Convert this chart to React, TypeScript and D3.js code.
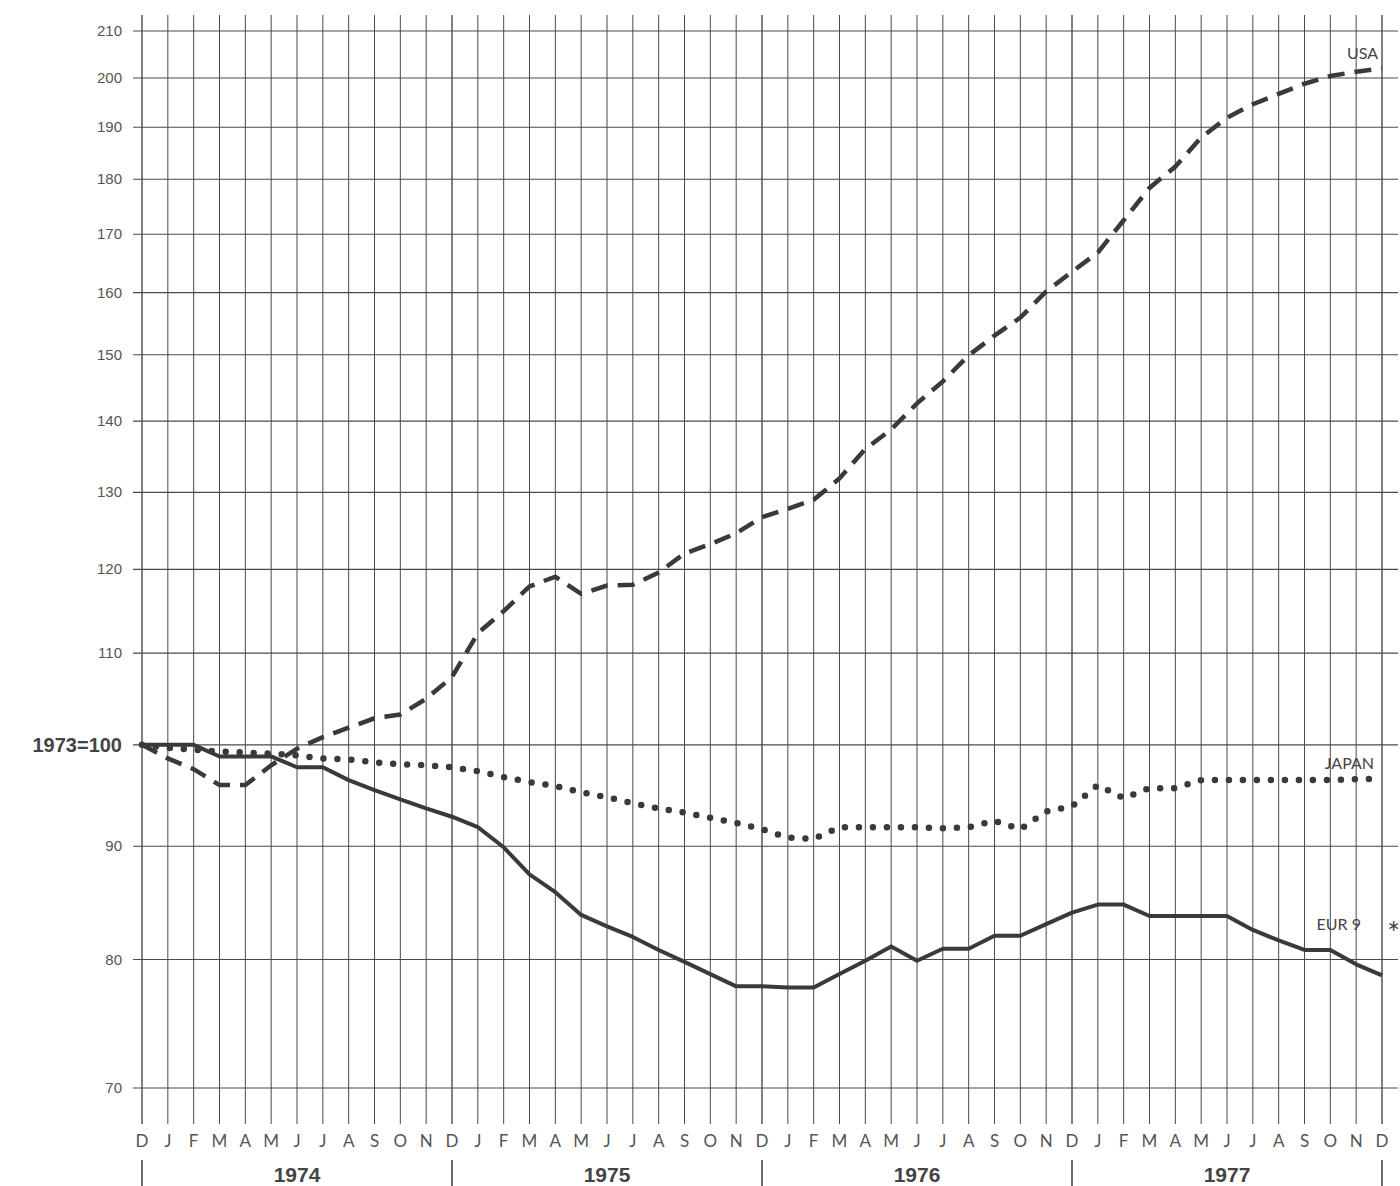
import * as d3 from 'd3';
import React, { useRef, useEffect } from 'react';

// month letters, Dec 1973 .. Dec 1977
const months = ['D','J','F','M','A','M','J','J','A','S','O','N',
  'D','J','F','M','A','M','J','J','A','S','O','N',
  'D','J','F','M','A','M','J','J','A','S','O','N',
  'D','J','F','M','A','M','J','J','A','S','O','N','D'];
const years = ['1974', '1975', '1976', '1977'];
const yTicks = [70, 80, 90, 100, 110, 120, 130, 140, 150, 160, 170, 180, 190, 200, 210];

const usa = [100, 98.6, 97.5, 95.9, 95.9, 97.9, 99.6, 100.8, 101.8, 102.8, 103.2, 104.9, 107.3,
  112.3, 114.9, 117.9, 119.1, 117.0, 118.0, 118.1, 119.6, 122.0, 123.2, 124.6, 126.7,
  127.8, 129.0, 131.9, 136.0, 138.8, 142.6, 145.9, 149.9, 153.0, 155.9, 160.2, 163.5,
  166.8, 172.5, 178.4, 182.4, 188.0, 191.9, 194.6, 196.7, 198.8, 200.4, 201.3, 202.0];
const japan = [100, 99.7, 99.5, 99.3, 99.2, 99.1, 98.9, 98.6, 98.5, 98.2, 98.0, 97.9, 97.7,
  97.3, 96.7, 96.2, 95.8, 95.2, 94.7, 94.1, 93.6, 93.2, 92.7, 92.2, 91.6,
  90.8, 90.7, 91.8, 91.8, 91.8, 91.8, 91.7, 91.8, 92.4, 91.6, 93.3, 93.8,
  95.9, 94.6, 95.6, 95.6, 96.4, 96.4, 96.4, 96.4, 96.4, 96.4, 96.5, 96.5];
const eur9 = [100, 100, 100, 98.8, 98.8, 98.8, 97.7, 97.7, 96.4, 95.4, 94.5, 93.6, 92.8,
  91.8, 89.9, 87.4, 85.8, 83.8, 82.8, 81.9, 80.8, 79.8, 78.8, 77.8, 77.8,
  77.7, 77.7, 78.8, 79.9, 81.1, 79.9, 80.9, 80.9, 82.0, 82.0, 83.0, 84.0,
  84.7, 84.7, 83.7, 83.7, 83.7, 83.7, 82.5, 81.6, 80.8, 80.8, 79.6, 78.7];

const W = 1400;
const H = 1186;
const ink = '#3a3a3a';
const narrow = '"Liberation Sans Narrow", "Liberation Sans", Arial, sans-serif';
const humanist = 'Lato, "Open Sans", sans-serif';

function Chart() {
  const ref = useRef(null);

  useEffect(() => {
    const svg = d3.select(ref.current);
    svg.selectAll('*').remove();

    const x = d3.scaleLinear().domain([0, months.length - 1]).range([142, 1382]);
    const y = d3.scaleLog().domain([70, 210]).range([1088, 31]);

    const grid = svg.append('g').attr('stroke', '#4a4a4a').attr('stroke-width', 1.1);
    grid.selectAll('line.h').data(yTicks).join('line')
      .attr('x1', 133).attr('x2', 1398)
      .attr('y1', d => y(d)).attr('y2', d => y(d));
    grid.selectAll('line.v').data(months).join('line')
      .attr('x1', (d, i) => x(i)).attr('x2', (d, i) => x(i))
      .attr('y1', 15).attr('y2', 1124)
      .attr('stroke-width', (d, i) => (i % 12 === 0 ? 1.4 : 1));

    // y tick labels
    svg.append('g').selectAll('text').data(yTicks.filter(d => d !== 100)).join('text')
      .attr('x', 122).attr('y', d => y(d) + 5)
      .attr('text-anchor', 'end')
      .attr('font-family', narrow).attr('font-size', 15).attr('fill', '#555')
      .text(d => d);
    svg.append('text')
      .attr('x', 122).attr('y', y(100) + 7)
      .attr('text-anchor', 'end')
      .attr('font-family', narrow).attr('font-size', 20).attr('font-weight', 'bold')
      .attr('fill', '#444')
      .text('1973=100');

    // month letters
    svg.append('g').selectAll('text').data(months).join('text')
      .attr('x', (d, i) => x(i)).attr('y', 1147)
      .attr('text-anchor', 'middle')
      .attr('font-family', humanist).attr('font-size', 17)
      .attr('fill', '#555')
      .text(d => d);

    // year separators and labels
    const yearEdges = d3.range(0, months.length, 12);
    svg.append('g').selectAll('line').data(yearEdges).join('line')
      .attr('x1', d => x(d)).attr('x2', d => x(d))
      .attr('y1', 1160).attr('y2', 1186)
      .attr('stroke', ink).attr('stroke-width', 1.5);
    svg.append('g').selectAll('text').data(years).join('text')
      .attr('x', (d, i) => (x(i * 12) + x(i * 12 + 12)) / 2).attr('y', 1182)
      .attr('text-anchor', 'middle')
      .attr('font-family', narrow).attr('font-size', 21).attr('font-weight', 'bold')
      .attr('fill', '#444')
      .text(d => d);

    const line = d3.line().x((d, i) => x(i)).y(d => y(d));

    svg.append('path').datum(eur9)
      .attr('d', line).attr('fill', 'none')
      .attr('stroke', ink).attr('stroke-width', 4).attr('stroke-linejoin', 'round');
    svg.append('path').datum(japan)
      .attr('d', line).attr('fill', 'none')
      .attr('stroke', ink).attr('stroke-width', 6.5)
      .attr('stroke-linecap', 'round').attr('stroke-dasharray', '0 14');
    svg.append('path').datum(usa)
      .attr('d', line).attr('fill', 'none')
      .attr('stroke', ink).attr('stroke-width', 4.5)
      .attr('stroke-dasharray', '17 10');

    // series labels
    const lab = svg.append('g')
      .attr('font-family', humanist).attr('font-size', 16)
      .attr('fill', '#444');
    lab.append('text').attr('x', 1378).attr('y', y(usa[48]) - 9)
      .attr('text-anchor', 'end').text('USA');
    lab.append('text').attr('x', 1374).attr('y', y(japan[48]) - 10)
      .attr('text-anchor', 'end').text('JAPAN');
    lab.append('text').attr('x', 1361).attr('y', y(eur9[42]) + 14)
      .attr('text-anchor', 'end').text('EUR 9');
    lab.append('text').attr('x', 1400).attr('y', y(eur9[42]) + 28)
      .attr('text-anchor', 'end').attr('font-size', 30).text('*');
  }, []);

  return (
    <svg ref={ref} width={W} height={H}
      style={{ position: 'absolute', left: 0, top: 0, background: '#fff' }}>
    </svg>
  );
}

export default function App() {
  return <Chart />;
}
